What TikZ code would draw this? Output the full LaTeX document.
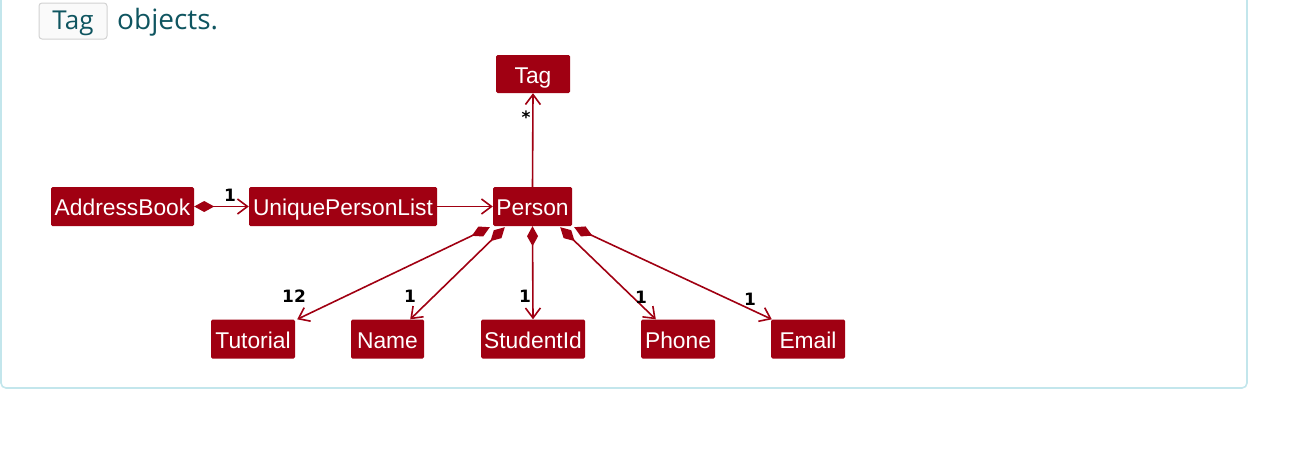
\documentclass[tikz,border=0pt]{standalone}
\usepackage{fontspec}
\setmainfont{Liberation Sans}
\newfontfamily\umlfont{Liberation Sans}
\newfontfamily\lblfont{DejaVu Sans}
\newfontfamily\docfont{Open Sans}
\usetikzlibrary{arrows.meta,calc}
\definecolor{umlred}{HTML}{A00012}
\definecolor{docteal}{HTML}{0F5560}
\definecolor{frameblue}{HTML}{C3E6EC}
\begin{document}
\begin{tikzpicture}[x=1pt,y=-1pt,
  cls/.style={fill=umlred,text=white,rounded corners=1.5pt,inner sep=0pt,minimum height=39pt,text height=18pt,text depth=0pt,font=\umlfont\fontsize{22.8}{22.8}\selectfont},
  comp/.style={draw=umlred,line width=1.6pt,{Diamond[length=20pt,width=11pt,fill=umlred]}-{Straight Barb[length=10pt,width=15pt]}},
  assoc/.style={draw=umlred,line width=1.6pt,-{Straight Barb[length=10pt,width=15pt]}},
  mult/.style={font=\lblfont\bfseries\fontsize{17}{17}\selectfont,inner sep=0pt}]
\useasboundingbox (0,0) rectangle (1314,458);
\draw[frameblue,line width=1.6pt,rounded corners=5pt] (1,-20) rectangle (1247,388);
\node[draw=gray!35,line width=1pt,fill=gray!4,rounded corners=3pt,minimum width=68pt,minimum height=36pt,inner sep=0pt,text height=17pt,text depth=0pt,text=docteal,font=\docfont\fontsize{26}{26}\selectfont] (code) at (73,21) {Tag};
\node[anchor=base west,text=docteal,font=\docfont\fontsize{28}{28}\selectfont,inner sep=0pt] (txt) at (117,29) {objects.};

\node[cls,minimum width=74pt,minimum height=38pt] (tag) at (533,74) {Tag};
\node[cls,minimum width=143pt] (ab) at (122.5,206.5) {AddressBook};
\node[cls,minimum width=188pt] (upl) at (343,206.5) {UniquePersonList};
\node[cls,minimum width=79pt] (p) at (532.5,206.5) {Person};
\node[cls,minimum width=84pt] (tut) at (253,339) {Tutorial};
\node[cls,minimum width=73pt] (name) at (387.5,339) {Name};
\node[cls,minimum width=104pt] (sid) at (533,339) {StudentId};
\node[cls,minimum width=74pt] (ph) at (678,339) {Phone};
\node[cls,minimum width=74pt] (em) at (808,339) {Email};

\draw[comp] (ab.east) -- (upl.west);
\draw[assoc] (upl.east) -- (p.west);
\draw[assoc] (p.north) -- (tag.south);
\draw[comp] ($(p.south west)+(-3,1)$) -- ($(tut.north east)+(2,0)$);
\draw[comp] ($(p.south west)+(12,1)$) -- ($(name.north east)+(-14,0)$);
\draw[comp] (p.south) -- (sid.north);
\draw[comp] ($(p.south east)+(-12,1)$) -- ($(ph.north west)+(15,0)$);
\draw[comp] ($(p.south east)+(2,1)$) -- ($(em.north west)+(1,0)$);

\node[mult] (m1) at (230,195) {1};
\node[mult] (m2) at (526,117) {*};
\node[mult] (m3) at (294,296) {12};
\node[mult] (m4) at (410,296) {1};
\node[mult] (m5) at (525,296) {1};
\node[mult] (m6) at (641,297) {1};
\node[mult] (m7) at (750,299) {1};
\end{tikzpicture}
\end{document}
